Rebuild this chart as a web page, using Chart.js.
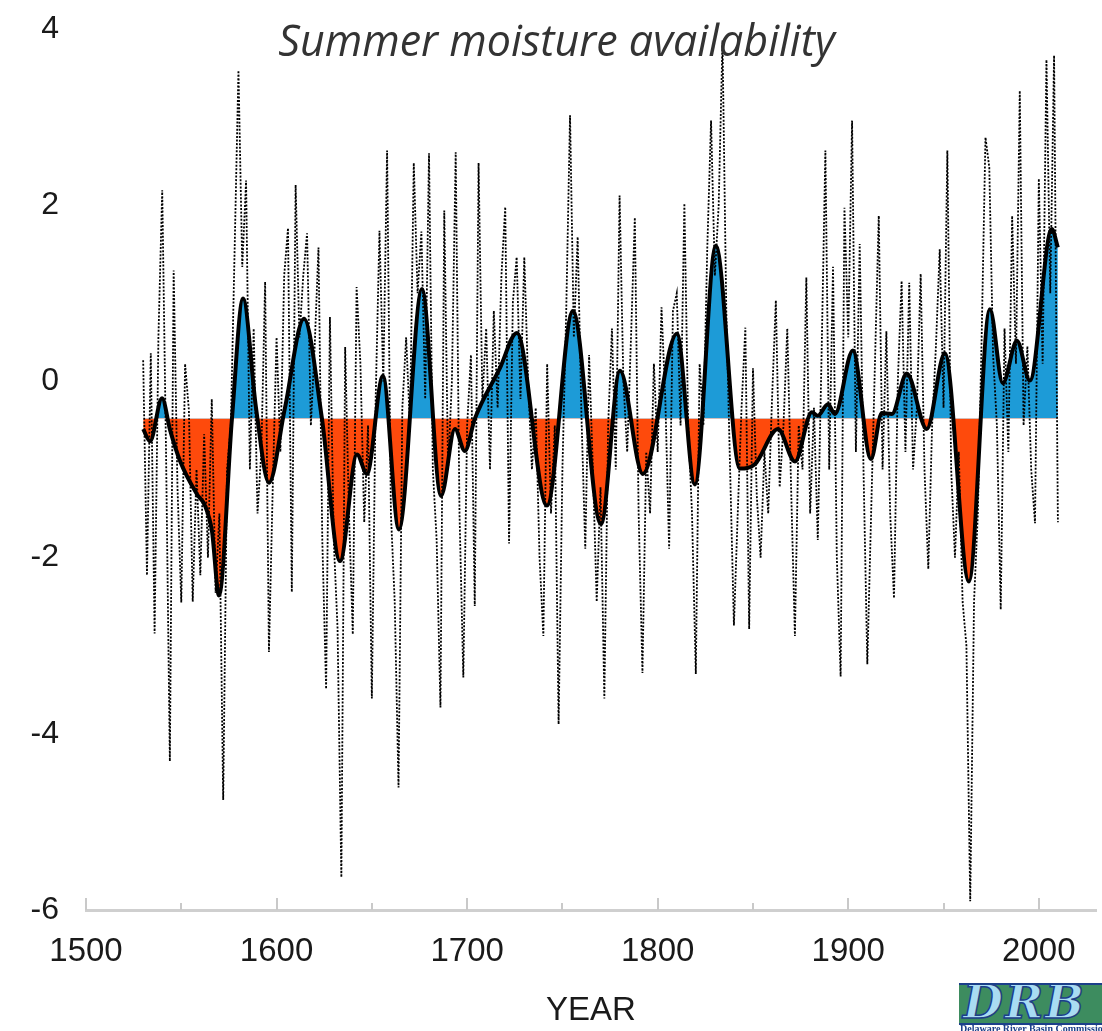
<!DOCTYPE html>
<html>
<head>
<meta charset="utf-8">
<script src="https://cdn.jsdelivr.net/npm/chart.js@4.4.1/dist/chart.umd.min.js"></script>
<style>
  body { margin: 0; background: #fff; }
  #wrap { position: relative; width: 1102px; height: 1031px; overflow: hidden; }
  #title {
    position: absolute; left: 0; width: 1113px; top: 18px;
    text-align: center; font: italic 43px/43px 'Open Sans', sans-serif; color: #333;
  }
  #logo {
    position: absolute; left: 959px; top: 983px; width: 143px; height: 38px;
    background: #3d8c5f; border-top: 2px solid #1c3f8a; border-bottom: 2px solid #1c3f8a;
    overflow: hidden;
  }
  #logo span {
    position: absolute; left: 4px; top: -9px; font: italic bold 46px/52px 'DejaVu Serif', serif;
    color: #a9dcf2; -webkit-text-stroke: 1.5px #1c3f8a; letter-spacing: 2px;
  }
  #logoText {
    position: absolute; left: 960px; top: 1024px; white-space: nowrap;
    font: bold 10px/10px 'Liberation Serif', serif; color: #1c3f8a;
  }
</style>
</head>
<body>
<div id="wrap">
  <canvas id="moistureChart"></canvas>
  <div id="title">Summer moisture availability</div>
  <div id="logo"><span>DRB</span></div>
  <div id="logoText">Delaware River Basin Commission</div>
</div>
<script>
// annual reconstruction, read every 2nd year from 1530
var annualStart = 1530;
var annualStep = 2;
var annualValues = [
  0.24, -2.2, 0.32, -2.86, 0.5, 2.17, -0.8, -4.31, 1.26, -1.2,
  -2.51, 0.2, -0.33, -2.5, -1.0, -2.2, -0.6, -2.0, -0.2, -2.4,
  -1.5, -4.75, -1.0, -0.5, 1.5, 3.53, 1.3, 2.28, -1.0, 0.6,
  -1.5, -0.8, 1.13, -3.07, -1.2, 0.5, -0.8, 1.2, 1.74, -2.39,
  2.23, 0.5, 1.2, 1.68, -0.5, 0.4, 1.52, -1.8, -3.49, 0.73,
  -1.8, -2.8, -5.63, 0.39, -1.5, -2.87, 1.07, 0.2, -1.6, -0.5,
  -3.6, -0.2, 1.71, 0.0, 2.62, -1.5, -2.5, -4.61, -0.3, 0.5,
  -0.5, 2.48, 1.0, 1.7, -0.2, 2.59, -1.0, -1.8, -3.7, 1.94,
  -1.0, 0.0, 2.6, -1.5, -3.36, -0.5, 0.3, -2.55, 2.48, -0.2,
  0.6, -1.0, 0.8, -0.3, 1.2, 1.98, -1.84, 0.9, 1.41, -0.2,
  1.41, 0.0, -1.0, -0.3, -2.0, -2.89, 0.2, -1.5, -0.5, -3.89,
  -1.0, 0.8, 3.02, 0.5, 1.64, -0.4, -1.9, 0.3, -1.0, -2.5,
  -1.2, -3.6, -0.5, 0.6, -1.0, 2.11, 0.0, -0.8, 0.5, 1.86,
  -1.5, -3.31, -0.8, -1.5, 0.2, -0.8, 0.84, -0.2, -1.9, 0.8,
  1.0, -0.5, 2.02, -0.5, -1.5, -3.32, 0.2, -0.5, 1.5, 2.96,
  1.2, 2.0, 3.87, 0.8, -1.0, -2.77, -1.5, -0.3, 0.61, -2.81,
  0.15, -1.3, -2.0, -0.8, -1.5, -0.2, 0.92, -1.2, -0.5, 0.6,
  -1.2, -2.89, -0.5, -1.0, 1.18, -1.5, -0.3, -1.8, 0.3, 2.62,
  -1.0, 1.3, -2.0, -3.35, 1.97, 0.5, 2.96, -0.8, 1.56, -1.0,
  -3.21, -1.5, 0.2, 1.88, -1.0, 0.57, -1.5, -2.46, 0.0, 1.14,
  -0.8, 1.12, -1.0, -0.3, 1.22, -1.0, -2.13, -0.5, 0.4, 1.5,
  -0.3, 2.62, -1.0, -2.0, -0.8, -2.5, -3.0, -5.9, -2.5, -1.5,
  0.5, 2.77, 2.43, 0.3, -0.5, -2.59, 0.6, -0.8, 1.88, 0.2,
  3.3, -0.5, 0.4, -1.0, -1.61, 2.3, 0.2, 3.65, 1.0, 3.7,
  -1.6
];

// smoothed curve
var smoothYears = [1530, 1533.6, 1539.9, 1544.1, 1549.3, 1558.2, 1562.4, 1566.1, 1569.8, 1576.6,
  1582.4, 1589.2, 1596, 1604.4, 1614.4, 1623.8, 1633.3, 1642.2, 1647.4, 1655.8,
  1664.2, 1676.3, 1686.3, 1693.6, 1698.8, 1704.1, 1717.2, 1726.1, 1741.9, 1755.5,
  1770.2, 1780.2, 1792.2, 1810.1, 1819.5, 1830.5, 1843.1, 1851, 1863.1, 1872,
  1880.9, 1884, 1889.3, 1893, 1902.4, 1911.9, 1917.6, 1922.9, 1930.7, 1941.2,
  1950.7, 1963.3, 1974.3, 1981.1, 1988.5, 1995.3, 2006.8, 2010];
var smoothValues = [-0.54, -0.68, -0.19, -0.55, -0.90, -1.28, -1.41, -1.7, -2.43, -0.42,
  0.94, -0.3, -1.15, -0.3, 0.71, -0.42, -2.04, -0.83, -1.05, 0.06,
  -1.68, 1.05, -1.30, -0.54, -0.79, -0.42, 0.15, 0.55, -1.41, 0.80,
  -1.62, 0.12, -1.05, 0.54, -1.17, 1.54, -0.99, -0.94, -0.54, -0.91,
  -0.35, -0.39, -0.26, -0.37, 0.35, -0.88, -0.36, -0.37, 0.09, -0.54,
  0.32, -2.27, 0.82, -0.02, 0.46, 0.01, 1.73, 1.52];

var fillBase = -0.42;
var majorYears = [1500, 1600, 1700, 1800, 1900, 2000];
var minorYears = [1550, 1650, 1750, 1850, 1950];
var yTicks = [-6, -4, -2, 0, 2, 4];

var annualPoints = annualValues.map(function (v, i) {
  return { x: annualStart + i * annualStep, y: v };
});
var smoothPoints = smoothYears.map(function (yr, i) {
  return { x: yr, y: smoothValues[i] };
});

// inward tick marks on the year axis
var innerTicks = {
  id: 'innerTicks',
  afterDraw: function (chart) {
    var ctx = chart.ctx, sx = chart.scales.x, base = chart.chartArea.bottom;
    ctx.save();
    ctx.strokeStyle = '#c9c9c9';
    ctx.lineWidth = 2;
    majorYears.concat(minorYears).forEach(function (yr) {
      var px = Math.round(sx.getPixelForValue(yr));
      var len = majorYears.indexOf(yr) >= 0 ? 12 : 7;
      ctx.beginPath();
      ctx.moveTo(px, base);
      ctx.lineTo(px, base - len);
      ctx.stroke();
    });
    ctx.restore();
  }
};

var fontFamily = "'Liberation Sans', Arial, Helvetica, sans-serif";

new Chart(document.getElementById('moistureChart'), {
  type: 'line',
  data: {
    datasets: [{
      label: 'smoothed',
      data: smoothPoints,
      borderColor: '#000',
      borderWidth: 4,
      pointRadius: 0,
      cubicInterpolationMode: 'monotone',
      fill: { target: { value: fillBase }, above: '#1d9bd7', below: '#fe4a0c' }
    }, {
      label: 'annual',
      data: annualPoints,
      borderColor: '#000',
      borderWidth: 1.8,
      borderDash: [2, 1.6],
      pointRadius: 0,
      tension: 0,
      fill: false
    }]
  },
  options: {
    responsive: true,
    maintainAspectRatio: false,
    animation: false,
    layout: { padding: { top: 29, right: 6, left: 0, bottom: 0 } },
    plugins: {
      legend: { display: false },
      tooltip: { enabled: false },
      filler: { drawTime: 'beforeDatasetsDraw' }
    },
    scales: {
      x: {
        type: 'linear',
        min: 1500,
        max: 2030,
        afterFit: function (s) { s.height = 121; },
        afterBuildTicks: function (s) {
          s.ticks = majorYears.map(function (v) { return { value: v }; });
        },
        grid: { display: false, drawTicks: false },
        border: { display: true, color: '#cfcfcf', width: 3 },
        ticks: {
          padding: 22,
          color: '#1a1a1a',
          font: { family: fontFamily, size: 33 },
          maxRotation: 0,
          callback: function (v) { return String(v); }
        },
        title: {
          display: true,
          text: 'YEAR',
          color: '#1a1a1a',
          font: { family: fontFamily, size: 33 },
          padding: { top: 0, bottom: 0 }
        }
      },
      y: {
        min: -6,
        max: 4,
        afterFit: function (s) {
          s.width = 86;
          s.paddingTop = 0;
          s.paddingBottom = 0;
        },
        afterBuildTicks: function (s) {
          s.ticks = yTicks.map(function (v) { return { value: v }; });
        },
        grid: { display: false, drawTicks: false },
        border: { display: false },
        ticks: {
          padding: 27,
          color: '#1a1a1a',
          font: { family: fontFamily, size: 32 }
        }
      }
    }
  },
  plugins: [innerTicks]
});
</script>
</body>
</html>
